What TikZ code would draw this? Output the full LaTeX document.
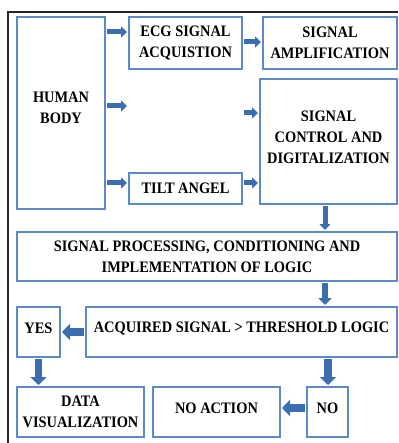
\documentclass[tikz,border=0pt]{standalone}
\usepackage{fontspec}
\setmainfont{Liberation Serif}[FakeStretch=0.9]
\usetikzlibrary{arrows.meta,calc}
\definecolor{boxblue}{HTML}{5B8AC6}
\definecolor{arrblue}{HTML}{3B6DB0}
\tikzset{
  box/.style={draw=boxblue, line width=1.3pt, fill=white, inner sep=0pt, outer sep=0pt, align=center,
    font=\fontsize{16}{21}\selectfont\bfseries},
  txt/.style={inner sep=0pt, align=center, font=\fontsize{16}{21}\selectfont\bfseries},
  sarrow/.style={draw=arrblue, line width=5pt, shorten <=2pt, shorten >=2pt,
    -{Triangle[width=11pt,length=6pt]}},
  marrow/.style={draw=arrblue, line width=6pt, shorten <=2pt, shorten >=2pt,
    -{Triangle[width=13pt,length=7pt]}},
  larrow/.style={draw=arrblue, line width=7.5pt, shorten <=2pt, shorten >=2pt,
    -{Triangle[width=16pt,length=8pt]}}
}
\begin{document}
\begin{tikzpicture}[x=1pt,y=-1pt]
\useasboundingbox (0,0) rectangle (398,443);
\draw[black!85, line width=1.2pt] (8,443) -- (8,12) -- (398,12);
% boxes
\node[box, minimum width=88pt, minimum height=192pt] (hb) at (61,113) {};
\node[txt] (hbt) at (61,108) {HUMAN\\BODY};
\node[box, minimum width=113pt, minimum height=52pt] (ecg) at (185.5,43) {ECG SIGNAL\\ACQUISTION};
\node[box, minimum width=134pt, minimum height=52pt] (amp) at (330,43) {SIGNAL\\AMPLIFICATION};
\node[box, minimum width=137pt, minimum height=125pt] (ctrl) at (328.5,141.5) {};
\node[txt] (ctrlt) at (328.5,137) {SIGNAL\\CONTROL AND\\DIGITALIZATION};
\node[box, minimum width=113pt, minimum height=31pt] (tilt) at (185.5,188.5) {TILT ANGEL};
\node[box, minimum width=380pt, minimum height=49pt] (proc) at (207,256.5) {SIGNAL PROCESSING, CONDITIONING AND\\IMPLEMENTATION OF LOGIC};
\node[box, minimum width=311pt, minimum height=50pt] (acq) at (241.5,332) {};
\node[txt] (acqt) at (241.5,328) {ACQUIRED SIGNAL {>} THRESHOLD LOGIC};
\node[box, minimum width=43pt, minimum height=50pt] (yes) at (38.5,332) {};
\node[txt] (yest) at (38.5,328) {YES};
\node[box, minimum width=127pt, minimum height=50pt] (dv) at (80.5,412) {DATA\\VISUALIZATION};
\node[box, minimum width=127pt, minimum height=50pt] (na) at (216.5,412) {};
\node[txt] (nat) at (216.5,408) {NO ACTION};
\node[box, minimum width=41pt, minimum height=50pt] (no) at (327.5,412) {};
\node[txt] (not) at (327.5,408) {NO};
% free ends
\coordinate (c1) at (129,106);
\coordinate (c2) at (242,113);
% arrows
\draw[sarrow] (hb.east |- 0,32) -- (ecg.west |- 0,32);
\draw[sarrow] (hb.east |- 0,106) -- (c1);
\draw[sarrow] (hb.east |- 0,183) -- (tilt.west |- 0,183);
\draw[sarrow] (ecg.east |- 0,42) -- (amp.west |- 0,42);
\draw[sarrow] (c2) -- (ctrl.west |- 0,113);
\draw[sarrow] (tilt.east |- 0,183) -- (ctrl.west |- 0,183);
\draw[sarrow] (ctrl.south -| 325,0) -- (proc.north -| 325,0);
\draw[marrow] (proc.south -| 325,0) -- (acq.north -| 325,0);
\draw[larrow] (acq.west) -- (yes.east);
\draw[larrow] (yes.south) -- (dv.north -| yes.south);
\draw[larrow] (acq.south -| 328,0) -- (no.north -| 328,0);
\draw[larrow] (no.west |- 0,408) -- (na.east |- 0,408);
\end{tikzpicture}
\end{document}
